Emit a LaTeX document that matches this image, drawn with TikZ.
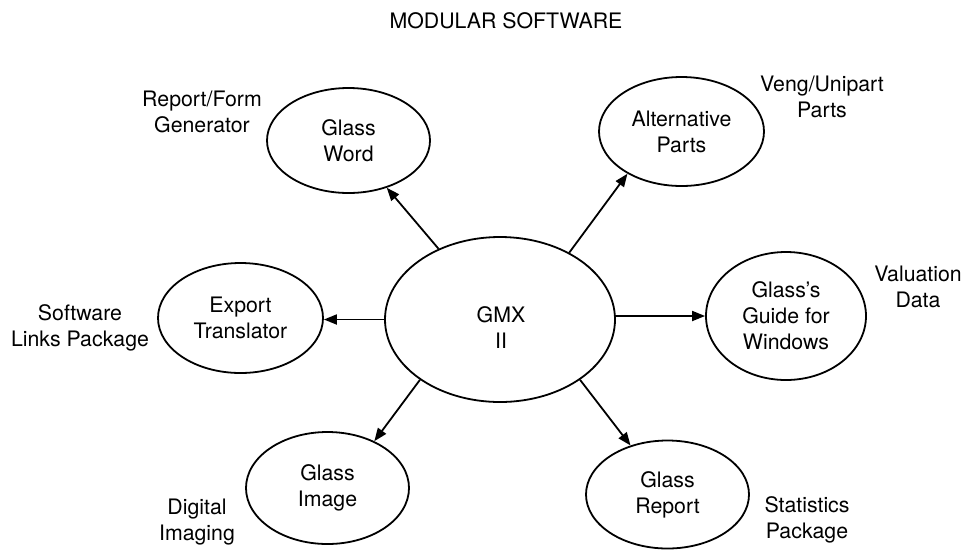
\documentclass[tikz,border=0pt]{standalone}
\usepackage{fontspec}
\setmainfont{TeX Gyre Heros}
\usetikzlibrary{shapes.geometric,arrows.meta}
\begin{document}
\begin{tikzpicture}[x=1pt,y=-1pt,
  txt/.style={font=\fontsize{21.3pt}{26pt}\selectfont, align=center, inner sep=0pt},
  ell/.style={ellipse, draw, line width=1.8pt, inner sep=0pt, txt},
  arr/.style={line width=1.8pt, -{Triangle[length=13pt,width=10pt]}}]
\useasboundingbox (0,0) rectangle (966,550);
% title
\node[txt] (title) at (506,20.5) {MODULAR SOFTWARE};
% central
\node[ell, minimum width=230pt, minimum height=165pt] (gmx) at (500,319.5) {};
\node[txt] (gmxtext) at (501,327.5) {GMX\\II};
% satellites
\node[ell, minimum width=163pt, minimum height=105pt] (word) at (348.5,140.5) {Glass\\Word};
\node[ell, minimum width=165pt, minimum height=109pt] (alt) at (681.5,131.5) {Alternative\\Parts};
\node[ell, minimum width=165pt, minimum height=110pt] (exp) at (240.5,318) {Export\\Translator};
\node[ell, minimum width=160pt, minimum height=128pt] (guide) at (786,316) {Glass's\\Guide for\\Windows};
\node[ell, minimum width=163pt, minimum height=112pt] (img) at (327.5,488) {Glass\\Image};
\node[ell, minimum width=163pt, minimum height=108pt] (rep) at (667.5,494.5) {Glass\\Report};
% side labels
\node[txt] (l1) at (202,112) {Report/Form\\Generator};
\node[txt] (l2) at (822,97) {Veng/Unipart\\Parts};
\node[txt] (l3) at (80,328) {Software\\Links Package};
\node[txt] (l4) at (918,286.5) {Valuation\\Data};
\node[txt] (l5) at (197,522) {Digital\\Imaging};
\node[txt] (l6) at (807,519.5) {Statistics\\Package};
% connectors
\draw[arr] (gmx.131.4) -- (word.-51.9);
\draw[arr] (gmx.44.8) -- (alt.218.9);
\draw[arr] (gmx.west) -- (gmx.west -| exp.east);
\draw[arr] (guide.west -| gmx.east) -- (guide.west);
\draw[arr] (gmx.217.1) -- (img.45.9);
\draw[arr] (gmx.-37.1) -- (rep.127.7);
\end{tikzpicture}
\end{document}
